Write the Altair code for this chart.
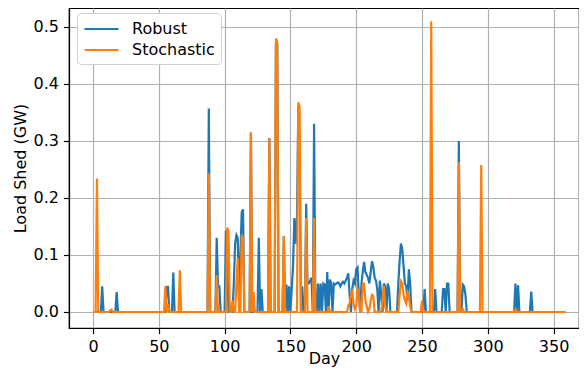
import altair as alt
import pandas as pd

days = list(range(360))

robust_day = [7, 14, 18, 56, 57, 61, 88, 94, 95, 96, 101, 102, 107, 108, 109, 110, 111, 112, 113, 114,
              120, 126, 128, 134, 139, 140, 145, 147, 149, 151, 152, 153, 154, 155, 156, 157,
              159, 162, 163, 164, 165, 166, 168, 171, 173, 175, 176, 178, 180, 181,
              183, 184, 185, 186, 187, 188, 189, 190, 191, 192, 193, 194, 195,
              197, 198, 199, 200, 201, 202, 204, 205, 206, 207, 208, 209, 210, 211, 212, 213, 214, 215, 216,
              218, 219, 221, 222, 224, 225, 232, 233, 234, 235, 236, 237, 238, 239, 240, 241,
              252, 260, 266, 267, 269, 270, 278, 281, 282, 283, 321, 323, 333]
robust_gw = [0.045, 0.003, 0.035, 0.044, 0.044, 0.069, 0.357, 0.13, 0.045, 0.045, 0.143, 0.1, 0.05, 0.12, 0.135, 0.13, 0.02, 0.1, 0.175, 0.18,
             0.315, 0.13, 0.04, 0.305, 0.47, 0.47, 0.133, 0.048, 0.045, 0.04, 0.08, 0.165, 0.12, 0.165, 0.36, 0.3,
             0.045, 0.19, 0.05, 0.05, 0.055, 0.06, 0.33, 0.05, 0.05, 0.05, 0.048, 0.07, 0.057, 0.05,
             0.05, 0.048, 0.05, 0.052, 0.05, 0.045, 0.05, 0.053, 0.05, 0.055, 0.06, 0.068, 0.03,
             0.04, 0.055, 0.05, 0.075, 0.078, 0.03, 0.05, 0.07, 0.088, 0.07, 0.065, 0.06, 0.05, 0.07, 0.089, 0.08, 0.06, 0.055, 0.04,
             0.055, 0.03, 0.05, 0.045, 0.05, 0.04, 0.05, 0.09, 0.12, 0.11, 0.08, 0.05, 0.045, 0.02, 0.075, 0.05,
             0.04, 0.04, 0.04, 0.04, 0.05, 0.05, 0.3, 0.048, 0.045, 0.03, 0.05, 0.047, 0.036]

stoch_day = [3, 13, 14, 55, 57, 66, 88, 94, 102, 103, 106, 109, 110, 113, 114,
             120, 122, 134, 139, 140, 145, 156, 157, 162, 168, 179,
             194, 195, 196, 197, 198, 199, 200, 201, 202, 205, 206, 207, 208, 210, 211, 212, 213,
             220, 221, 222, 233, 234, 235, 236, 237, 238, 239, 240, 241,
             250, 257, 278, 281, 295, 321]
stoch_gw = [0.234, 0.003, 0.004, 0.045, 0.014, 0.073, 0.243, 0.065, 0.148, 0.14, 0.02, 0.05, 0.095, 0.135, 0.13,
            0.315, 0.035, 0.305, 0.48, 0.475, 0.133, 0.368, 0.36, 0.165, 0.165, 0.01,
            0.012, 0.015, 0.03, 0.035, 0.015, 0.005, 0.01, 0.04, 0.035, 0.05, 0.05, 0.02, 0.01, 0.005, 0.02, 0.03, 0.028,
            0.02, 0.046, 0.01, 0.03, 0.054, 0.05, 0.03, 0.02, 0.015, 0.035, 0.03, 0.01,
            0.02, 0.51, 0.263, 0.005, 0.258, 0.005]

series_names = ["Robust", "Stochastic"]
series_colors = ["#1f77b4", "#ff7f0e"]
x_ticks = [0, 50, 100, 150, 200, 250, 300, 350]
y_ticks = [0.0, 0.1, 0.2, 0.3, 0.4, 0.5]


def full(dl, vl):
    m = dict(zip(dl, vl))
    return [m.get(d, 0.0) for d in days]


df = pd.DataFrame({
    "Day": days * 2,
    "GW": full(robust_day, robust_gw) + full(stoch_day, stoch_gw),
    "Series": [series_names[0]] * len(days) + [series_names[1]] * len(days),
})

FONT = "DejaVu Sans"

chart = alt.Chart(df).mark_line(strokeWidth=2.2, clip=True).encode(
    x=alt.X("Day:Q",
            scale=alt.Scale(domain=[-18.24, 369.3], nice=False, zero=False),
            axis=alt.Axis(values=x_ticks, title="Day", format="d",
                          titleY=35, titleBaseline="alphabetic")),
    y=alt.Y("GW:Q",
            scale=alt.Scale(domain=[-0.0281, 0.5333], nice=False, zero=False),
            axis=alt.Axis(values=y_ticks, format=".1f", title="Load Shed (GW)", titlePadding=4)),
    color=alt.Color("Series:N",
                    scale=alt.Scale(domain=series_names, range=series_colors),
                    legend=alt.Legend(title=None, orient="none", legendX=8, legendY=5,
                                      symbolType="M-1,0H3", symbolSize=289, symbolStrokeWidth=2.2,
                                      labelFont=FONT, labelFontSize=16, labelColor="black",
                                      labelOffset=29, fillColor="white", strokeColor="#d0d0d0",
                                      cornerRadius=4, padding=6, rowPadding=3)),
).properties(
    width=510, height=320,
    autosize="none",
    padding={"left": 61, "top": 0, "right": 0, "bottom": 39},
).configure_axis(
    grid=True, gridColor="#b0b0b0", gridWidth=1.2,
    domainColor="black", domainWidth=1.2,
    tickColor="black", tickSize=5.6, tickWidth=1.2,
    labelFont=FONT, labelFontSize=16, labelColor="black", labelPadding=5,
    titleFont=FONT, titleFontSize=16, titleFontWeight="normal", titleColor="black",
).configure_view(stroke="black", strokeWidth=1.2)

chart.save("out.html", embed_options={"renderer": "svg", "actions": False})
